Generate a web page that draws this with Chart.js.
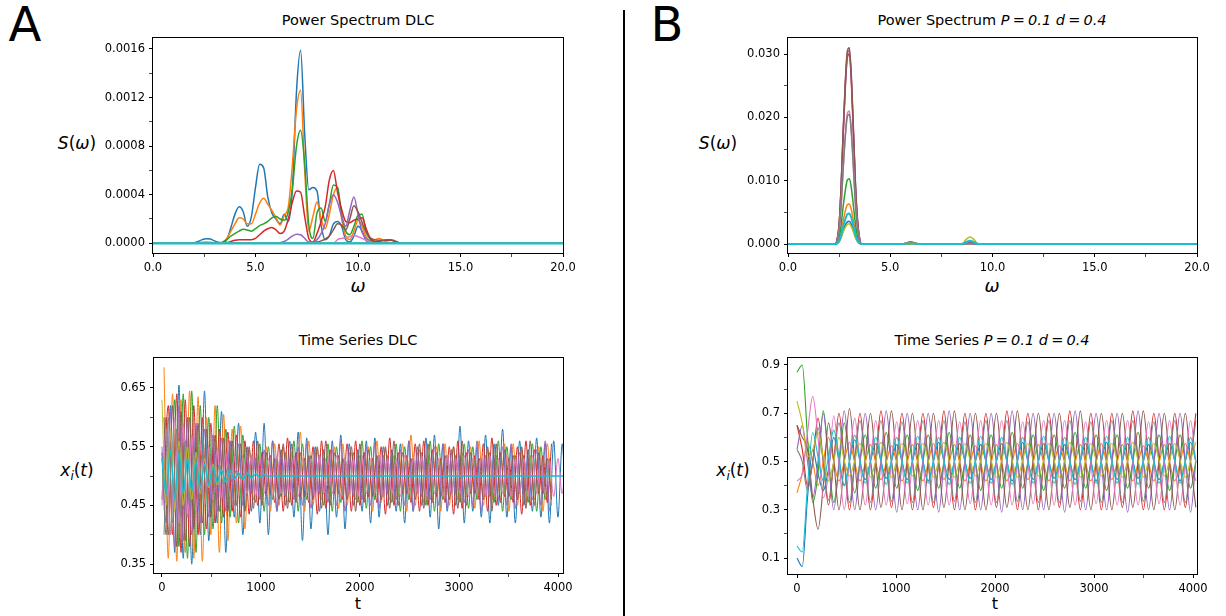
<!DOCTYPE html>
<html lang="en">
<head>
<meta charset="UTF-8">
<title>Power spectra and time series: DLC vs P=0.1 d=0.4</title>
<script src="https://cdn.jsdelivr.net/npm/chart.js"></script>
<style>
  body { margin: 0; background: #fff; font-family: 'DejaVu Sans', sans-serif; }
  #fig { position: relative; width: 1226px; height: 616px; overflow: hidden; background: #fff; }
  canvas { position: absolute; }
  .t { position: absolute; transform: translate(-50%, -50%); white-space: nowrap; color: #000; }
  .title { font-size: 14.5px; }
  .xl { font-size: 18px; }
  .tl { font-size: 16px; }
  .yl { font-size: 17px; }
  .big { font-size: 48px; }
  i { font-style: italic; }
  .eq { padding: 0 0.22em; font-style: normal; }
  sub { font-size: 70%; vertical-align: -0.3em; line-height: 0; }
  #divider { position: absolute; left: 623px; top: 10px; width: 2px; height: 606px; background: #000; }
</style>
</head>
<body>
<div id="fig">
  <div class="t big" style="left:25px;top:24px">A</div>
  <div class="t big" style="left:667px;top:24px">B</div>
  <div id="divider"></div>

  <div class="t title" style="left:358px;top:20px">Power Spectrum DLC</div>
  <div class="t title" style="left:358px;top:340px">Time Series DLC</div>
  <div class="t title" style="left:992px;top:20px">Power Spectrum <i>P</i><span class="eq">=</span><i>0.1</i> <i>d</i><span class="eq">=</span><i>0.4</i></div>
  <div class="t title" style="left:992px;top:340px">Time Series <i>P</i><span class="eq">=</span><i>0.1</i> <i>d</i><span class="eq">=</span><i>0.4</i></div>

  <div class="t yl" style="left:77px;top:143px"><i>S</i>(<i>ω</i>)</div>
  <div class="t yl" style="left:77px;top:470px"><i>x<sub>i</sub></i>(<i>t</i>)</div>
  <div class="t yl" style="left:718px;top:143px"><i>S</i>(<i>ω</i>)</div>
  <div class="t yl" style="left:733px;top:470px"><i>x<sub>i</sub></i>(<i>t</i>)</div>

  <div class="t xl" style="left:358px;top:285px"><i>ω</i></div>
  <div class="t tl" style="left:358px;top:603px">t</div>
  <div class="t xl" style="left:992px;top:285px"><i>ω</i></div>
  <div class="t tl" style="left:995px;top:603px">t</div>

  <canvas id="specA"></canvas>
  <canvas id="timeA"></canvas>
  <canvas id="specB"></canvas>
  <canvas id="timeB"></canvas>
</div>

<script>
// matplotlib tab10 order
const tab10 = ['#1f77b4', '#ff7f0e', '#2ca02c', '#d62728', '#9467bd', '#8c564b', '#e377c2', '#7f7f7f', '#bcbd22', '#17becf'];

// ---------- A: power spectrum, DLC (values in units of 1e-4) ----------
const omegaA = [0, 1.8, 2.0, 2.2, 2.4, 2.6, 2.8, 3.0, 3.2, 3.4, 3.6, 3.8, 4.0, 4.2, 4.4, 4.6, 4.8, 5.0, 5.2, 5.4, 5.6,
  5.8, 6.0, 6.2, 6.4, 6.6, 6.8, 7.0, 7.2, 7.4, 7.6, 7.8, 8.0, 8.2, 8.4, 8.6, 8.8, 9.0, 9.2, 9.4, 9.6,
  9.8, 10.0, 10.2, 10.4, 10.6, 10.8, 11.0, 11.2, 11.4, 11.6, 11.8, 12.0, 12.2, 20];
const omegaEnds = [0, 20];
const specA_blue = [0, 0, 0.05, 0.15, 0.3, 0.38, 0.35, 0.2, 0.08, 0.02, 0.3, 1.3, 2.4, 3.0, 2.6, 1.4, 2.2, 4.6, 6.5, 6.2, 3.8,
  2.5, 2.0, 1.6, 2.4, 1.8, 4.5, 12.5, 15.9, 9.0, 4.4, 4.6, 4.3, 1.5, 0.3, 0.6, 1.6, 1.8, 1.4, 0.3, 0.1,
  0.6, 1.4, 1.0, 0.2, 0.05, 0, 0, 0, 0, 0, 0, 0, 0, 0];
const specA_orange = [0, 0, 0.02, 0.05, 0.08, 0.1, 0.08, 0.05, 0.05, 0.1, 0.4, 1.0, 1.6, 2.1, 2.0, 1.6, 1.6, 2.4, 3.3, 3.7, 3.2,
  2.7, 2.1, 1.5, 2.3, 3.0, 6.5, 11.0, 12.6, 6.0, 1.0, 2.2, 3.4, 2.0, 1.2, 2.4, 4.0, 4.6, 2.0, 0.6, 0.3,
  1.0, 1.9, 1.4, 0.5, 0.2, 0.25, 0.4, 0.3, 0.1, 0.05, 0, 0, 0, 0];
const specA_green = [0, 0, 0, 0, 0, 0, 0, 0, 0, 0.1, 0.3, 0.6, 0.8, 1.0, 1.15, 1.1, 1.0, 1.2, 1.45, 1.6, 1.8,
  2.1, 2.2, 2.0, 1.9, 2.6, 4.5, 8.0, 9.3, 6.5, 1.5, 0.4, 2.5, 2.9, 1.8, 3.2, 4.8, 4.6, 2.4, 1.0, 0.7,
  1.4, 2.3, 2.4, 0.9, 0.3, 0.1, 0, 0, 0, 0, 0, 0, 0, 0];
const specA_red = [0, 0, 0, 0, 0, 0, 0, 0, 0, 0, 0.05, 0.15, 0.25, 0.3, 0.3, 0.3, 0.3, 0.4, 0.7, 1.0, 1.2,
  1.3, 1.1, 0.8, 1.0, 2.0, 3.4, 4.3, 4.2, 2.2, 0.4, 0.1, 0.8, 1.8, 3.0, 5.2, 6.0, 4.2, 2.8, 1.8, 1.7,
  1.9, 2.0, 2.1, 1.2, 0.4, 0.15, 0.15, 0.2, 0.25, 0.25, 0.15, 0.05, 0, 0];
const specA_purple = [0, 0, 0, 0, 0, 0, 0, 0, 0, 0, 0, 0, 0, 0, 0, 0, 0, 0, 0, 0, 0,
  0, 0, 0.05, 0.15, 0.35, 0.6, 0.75, 0.7, 0.4, 0.1, 0.1, 0.3, 0.8, 1.6, 3.2, 4.0, 3.4, 2.2, 1.4, 2.7,
  3.8, 2.4, 0.9, 0.4, 0.15, 0.05, 0, 0, 0, 0, 0, 0, 0, 0];
const specA_brown = [0, 0, 0, 0, 0, 0, 0, 0, 0, 0, 0, 0, 0, 0, 0, 0, 0, 0, 0, 0, 0,
  0, 0, 0, 0, 0, 0, 0, 0, 0, 0, 0.05, 0.1, 0.2, 0.35, 0.6, 1.1, 1.6, 1.5, 1.1, 2.0,
  3.1, 2.6, 1.7, 0.9, 0.45, 0.3, 0.25, 0.25, 0.3, 0.3, 0.2, 0.05, 0, 0];
const specA_pink = [0, 0, 0, 0, 0, 0, 0, 0, 0, 0, 0, 0, 0, 0, 0, 0, 0, 0, 0, 0, 0,
  0, 0, 0, 0, 0, 0, 0, 0, 0, 0, 0, 0, 0, 0, 0, 0, 0.3, 0.4, 0.45, 0.55,
  0.65, 0.55, 0.4, 0.25, 0.1, 0, 0, 0, 0, 0, 0, 0, 0, 0];
const specA_flat = [0, 0];

// ---------- B: power spectrum, P=0.1 d=0.4 (values in units of 1e-3) ----------
const omegaB = [0, 2.3, 2.4, 2.5, 2.6, 2.7, 2.8, 2.9, 3.0, 3.1, 3.2, 3.3, 3.4, 3.5, 3.6, 5.6, 5.8, 6.0, 6.2, 6.4, 8.5, 8.7, 8.9, 9.1, 9.3, 20];
const specB_blue   = [0, 0, 0.1, 0.4, 1.1, 2.1, 3.0, 3.5, 3.6, 3.1, 2.1, 1.1, 0.4, 0.1, 0, 0, 0.2, 0.35, 0.2, 0, 0, 0.25, 0.4, 0.25, 0, 0];
const specB_orange = [0, 0, 0.1, 0.6, 1.9, 3.7, 5.2, 6.2, 6.3, 5.4, 3.7, 1.9, 0.8, 0.2, 0, 0, 0.15, 0.25, 0.15, 0, 0, 0.2, 0.3, 0.2, 0, 0];
const specB_green  = [0, 0, 0.2, 1.0, 3.1, 6.0, 8.4, 10.1, 10.3, 8.8, 6.0, 3.1, 1.2, 0.3, 0, 0, 0, 0, 0, 0, 0, 0.1, 0.15, 0.1, 0, 0];
const specB_red    = [0, 0, 0.6, 3.0, 9.0, 17.4, 24.6, 29.4, 30.0, 25.5, 17.4, 9.0, 3.6, 0.9, 0, 0, 0, 0, 0, 0, 0, 0.05, 0.1, 0.05, 0, 0];
const specB_purple = [0, 0, 0.6, 3.05, 9.2, 17.7, 25.0, 29.9, 30.5, 25.9, 17.7, 9.2, 3.7, 0.9, 0, 0, 0, 0, 0, 0, 0, 0.1, 0.2, 0.1, 0, 0];
const specB_brown  = [0, 0, 0.6, 3.1, 9.3, 18.0, 25.4, 30.4, 31.0, 26.4, 18.0, 9.3, 3.7, 0.9, 0, 0, 0, 0, 0, 0, 0, 0.05, 0.1, 0.05, 0, 0];
const specB_pink   = [0, 0, 0.4, 2.1, 6.3, 12.2, 17.2, 20.6, 21.0, 17.9, 12.2, 6.3, 2.5, 0.6, 0, 0, 0, 0, 0, 0, 0, 0, 0, 0, 0, 0];
const specB_gray   = [0, 0, 0.4, 2.05, 6.2, 11.9, 16.8, 20.1, 20.5, 17.4, 11.9, 6.2, 2.5, 0.6, 0, 0, 0, 0, 0, 0, 0, 0, 0, 0, 0, 0];
const specB_olive  = [0, 0, 0.1, 0.3, 1.0, 1.9, 2.6, 3.1, 3.2, 2.7, 1.9, 1.0, 0.4, 0.1, 0, 0, 0, 0, 0, 0, 0, 0.7, 1.1, 0.7, 0, 0];
const specB_cyan   = [0, 0, 0.1, 0.5, 1.4, 2.8, 3.9, 4.7, 4.8, 4.1, 2.8, 1.4, 0.6, 0.1, 0, 0, 0.05, 0.1, 0.05, 0, 0, 0.3, 0.5, 0.3, 0, 0];

// ---------- A: time series, DLC (sampled at the turning points, every 43 time units) ----------
const tA = Array.from({ length: 100 }, (_, k) => k * 43);        // sample grid
const tA2 = Array.from({ length: 100 }, (_, k) => 21 + k * 43);  // grid shifted by a quarter period
const tsA_blue = [0.54,0.40,0.62,0.37,0.655,0.36,0.60,0.35,0.58,0.40, 0.645,0.39,0.55,0.42,0.61,0.37,0.56,0.43,0.59,0.40,
  0.55,0.44,0.575,0.42,0.59,0.40,0.56,0.44,0.545,0.45, 0.56,0.43,0.575,0.39,0.565,0.41,0.55,0.44,0.545,0.40,
  0.56,0.43,0.57,0.41,0.555,0.45,0.545,0.44,0.56,0.42, 0.565,0.43,0.55,0.45,0.545,0.44,0.555,0.42,0.56,0.44,
  0.55,0.45,0.565,0.43,0.57,0.41,0.555,0.44,0.545,0.45, 0.585,0.42,0.56,0.44,0.55,0.43,0.57,0.42,0.555,0.45,
  0.58,0.43,0.55,0.42,0.56,0.45,0.545,0.44,0.565,0.43, 0.555,0.42,0.56,0.43,0.555,0.44,0.55,0.43];
const tsA_orange = [0.685,0.36,0.64,0.355,0.63,0.37,0.645,0.36,0.635,0.355, 0.60,0.40,0.62,0.37,0.605,0.39,0.58,0.42,0.585,0.41,
  0.545,0.46,0.535,0.46,0.55,0.44,0.555,0.45, 0.55,0.455,0.54,0.465,0.575,0.44,0.56,0.45,
  0.545,0.46,0.53,0.465,0.55,0.445,0.555,0.45, 0.54,0.46,0.535,0.46,0.55,0.44,0.56,0.455,
  0.545,0.46,0.535,0.465,0.555,0.44,0.57,0.45, 0.545,0.455,0.535,0.46,0.55,0.44,0.555,0.45,
  0.55,0.46,0.54,0.465,0.55,0.445,0.56,0.45, 0.545,0.46,0.535,0.46,0.555,0.44,0.555,0.45,
  0.545,0.455,0.535,0.46,0.55,0.44,0.555,0.45];
const tsA_green = [0.46,0.60,0.40,0.63,0.38,0.64,0.36,0.645,0.37,0.62, 0.40,0.60,0.41,0.62,0.42,0.58,0.43,0.585,0.42,0.57,
  0.47,0.535,0.455,0.555,0.44,0.55,0.46,0.53, 0.465,0.54,0.455,0.56,0.44,0.555,0.46,0.535,
  0.47,0.535,0.45,0.555,0.44,0.55,0.455,0.53, 0.47,0.54,0.455,0.56,0.445,0.55,0.46,0.535,
  0.465,0.535,0.455,0.555,0.44,0.55,0.46,0.53, 0.47,0.54,0.45,0.56,0.44,0.555,0.46,0.535,
  0.47,0.535,0.455,0.555,0.445,0.55,0.46,0.53, 0.465,0.54,0.455,0.56,0.44,0.55,0.46,0.535,
  0.47,0.535,0.455,0.555,0.44,0.55,0.46,0.53];
const tsA_red = [0.50,0.62,0.40,0.64,0.37,0.63,0.38,0.62,0.40,0.60, 0.41,0.59,0.42,0.58,0.43,0.575,0.44,0.57,0.43,0.56,
  0.435,0.56,0.45,0.54,0.47,0.535,0.455,0.555, 0.44,0.565,0.45,0.54,0.465,0.53,0.455,0.55,
  0.435,0.56,0.445,0.545,0.47,0.535,0.46,0.555, 0.44,0.56,0.45,0.54,0.465,0.53,0.455,0.55,
  0.435,0.565,0.45,0.54,0.47,0.535,0.455,0.555, 0.44,0.56,0.45,0.545,0.465,0.53,0.455,0.55,
  0.435,0.56,0.445,0.54,0.47,0.535,0.46,0.555, 0.44,0.565,0.45,0.54,0.465,0.53,0.455,0.55,
  0.435,0.56,0.45,0.545,0.47,0.535,0.455,0.555];
const tsA_purple = [0.55,0.42,0.61,0.38,0.62,0.39,0.60,0.40,0.59,0.42, 0.58,0.43,0.57,0.44,0.565,0.44,0.56,0.45,0.555,0.45,
  0.54,0.47,0.53,0.46,0.545,0.45,0.56,0.44, 0.535,0.465,0.53,0.46,0.55,0.45,0.555,0.445,
  0.54,0.47,0.53,0.455,0.545,0.45,0.56,0.44, 0.54,0.465,0.535,0.46,0.55,0.45,0.555,0.445,
  0.535,0.47,0.53,0.46,0.545,0.45,0.56,0.44, 0.54,0.465,0.53,0.46,0.55,0.45,0.555,0.445,
  0.54,0.47,0.535,0.455,0.545,0.45,0.56,0.44, 0.535,0.465,0.53,0.46,0.55,0.45,0.555,0.445,
  0.54,0.47,0.53,0.46,0.545,0.45,0.56,0.44];
const tsA_brown = [0.60,0.40,0.62,0.38,0.61,0.39,0.60,0.41,0.59,0.42, 0.58,0.43,0.57,0.44,0.565,0.44,0.56,0.45,0.555,0.44,
  0.55,0.445,0.56,0.45,0.54,0.47,0.53,0.46, 0.555,0.445,0.555,0.455,0.54,0.465,0.535,0.46,
  0.55,0.445,0.56,0.45,0.54,0.47,0.53,0.46, 0.55,0.44,0.555,0.455,0.545,0.465,0.535,0.46,
  0.55,0.445,0.56,0.45,0.54,0.47,0.53,0.46, 0.555,0.445,0.555,0.455,0.54,0.465,0.535,0.46,
  0.55,0.445,0.56,0.45,0.54,0.47,0.53,0.46, 0.55,0.44,0.555,0.455,0.545,0.465,0.535,0.46,
  0.55,0.445,0.56,0.45,0.54,0.47,0.53,0.46];
const tsA_pink = [0.45,0.58,0.40,0.60,0.42,0.59,0.43,0.57,0.44,0.56, 0.45,0.55,0.46,0.545,0.46,0.54,0.465,0.535,0.465,0.53,
  0.47,0.535,0.465,0.53,0.47,0.53,0.465,0.535,0.47,0.53, 0.47,0.535,0.465,0.53,0.47,0.53,0.465,0.535,0.47,0.53,
  0.47,0.535,0.465,0.53,0.47,0.53,0.465,0.535,0.47,0.53, 0.47,0.535,0.465,0.53,0.47,0.53,0.465,0.535,0.47,0.53,
  0.47,0.535,0.465,0.53,0.47,0.53,0.465,0.535,0.47,0.53, 0.47,0.535,0.465,0.53,0.47,0.53,0.465,0.535,0.47,0.53,
  0.47,0.535,0.465,0.53,0.47,0.53,0.465,0.535,0.47,0.53, 0.47,0.525,0.465,0.53,0.47,0.535,0.465,0.53];
const tsA_gray = [0.40,0.60,0.42,0.58,0.43,0.56,0.45,0.55,0.46,0.54, 0.47,0.53,0.48,0.52,0.485,0.515,0.49,0.51,0.495,0.505, 0.5,0.5];
const tsA_olive = [0.63,0.45,0.58,0.44,0.56,0.45,0.55,0.46,0.54,0.47, 0.53,0.48,0.52,0.485,0.51,0.49,0.505,0.495,0.5,0.5];
const tsA_cyan = [0.53,0.47,0.545,0.46,0.54,0.47,0.53,0.475,0.525,0.48, 0.52,0.485,0.515,0.49,0.51,0.49,0.51,0.495,0.505,0.495,
  0.505,0.497,0.503,0.498,0.502,0.5,0.5,0.5,0.5,0.5, 0.5,0.5,0.5,0.5,0.5,0.5,0.5,0.5,0.5,0.5,
  0.5,0.5,0.5,0.5,0.5,0.5,0.5,0.5,0.5,0.5, 0.5,0.5,0.5,0.5,0.5,0.5,0.5,0.5,0.5,0.5,
  0.5,0.5,0.5,0.5,0.5,0.5,0.5,0.5,0.5,0.5, 0.5,0.5,0.5,0.5,0.5,0.5,0.5,0.5,0.5,0.5,
  0.5,0.5,0.5,0.5,0.5,0.5,0.5,0.5,0.5,0.5, 0.5,0.5,0.5,0.5,0.5,0.5,0.5,0.5];

// ---------- B: time series, P=0.1 d=0.4 (sampled every 53 time units, a quarter period) ----------
const tB = Array.from({ length: 80 }, (_, k) => k * 53);
const tsB_blue = [0.10,0.065,0.35,0.55,0.45,0.38,0.47,0.60,0.50,0.40,0.50,0.59,
  0.50,0.425,0.50,0.575, 0.50,0.43,0.50,0.57, 0.50,0.425,0.50,0.575, 0.50,0.42,0.50,0.58, 0.50,0.425,0.50,0.575, 0.50,0.43,0.50,0.57,
  0.50,0.425,0.50,0.575, 0.50,0.42,0.50,0.58, 0.50,0.425,0.50,0.575, 0.50,0.43,0.50,0.57, 0.50,0.425,0.50,0.575, 0.50,0.42,0.50,0.58,
  0.50,0.425,0.50,0.575, 0.50,0.43,0.50,0.57, 0.50,0.425,0.50,0.575, 0.50,0.42,0.50,0.58, 0.50];
const tsB_orange = [0.37,0.45,0.58,0.50,0.40,0.50,0.60,0.50,0.42,0.50,0.58,0.495,
  0.42,0.495,0.57,0.495, 0.425,0.495,0.565,0.495, 0.42,0.495,0.57,0.495, 0.42,0.495,0.575,0.495, 0.425,0.495,0.57,0.495, 0.42,0.495,0.565,0.495,
  0.42,0.495,0.57,0.495, 0.42,0.495,0.575,0.495, 0.425,0.495,0.57,0.495, 0.42,0.495,0.565,0.495, 0.42,0.495,0.57,0.495, 0.42,0.495,0.575,0.495,
  0.425,0.495,0.57,0.495, 0.42,0.495,0.565,0.495, 0.42,0.495,0.57,0.495, 0.42,0.495,0.575,0.495, 0.42];
const tsB_green = [0.87,0.90,0.60,0.33,0.45,0.71,0.52,0.33,0.48,0.66,0.50,0.37,
  0.50,0.61,0.50,0.39, 0.50,0.62,0.50,0.39, 0.50,0.61,0.50,0.38, 0.50,0.61,0.50,0.39, 0.50,0.62,0.50,0.39, 0.50,0.61,0.50,0.38,
  0.50,0.61,0.50,0.39, 0.50,0.62,0.50,0.39, 0.50,0.61,0.50,0.38, 0.50,0.61,0.50,0.39, 0.50,0.62,0.50,0.39, 0.50,0.61,0.50,0.38,
  0.50,0.61,0.50,0.39, 0.50,0.62,0.50,0.39, 0.50,0.61,0.50,0.38, 0.50,0.61,0.50,0.39, 0.50];
const tsB_red = [0.65,0.55,0.40,0.50,0.68,0.50,0.32,0.50,0.70,0.50,0.30,0.50,
  0.70,0.50,0.30,0.50, 0.71,0.50,0.31,0.50, 0.70,0.50,0.30,0.50, 0.70,0.50,0.31,0.50, 0.71,0.50,0.30,0.50, 0.70,0.50,0.30,0.50,
  0.70,0.50,0.31,0.50, 0.71,0.50,0.30,0.50, 0.70,0.50,0.30,0.50, 0.70,0.50,0.31,0.50, 0.71,0.50,0.30,0.50, 0.70,0.50,0.30,0.50,
  0.70,0.50,0.31,0.50, 0.71,0.50,0.30,0.50, 0.70,0.50,0.30,0.50, 0.70,0.50,0.31,0.50, 0.70];
const tsB_purple = [0.55,0.65,0.50,0.35,0.50,0.70,0.50,0.30,0.50,0.71,0.50,0.30,
  0.50,0.70,0.50,0.30, 0.50,0.71,0.50,0.29, 0.50,0.70,0.50,0.30, 0.50,0.70,0.50,0.29, 0.50,0.71,0.50,0.30, 0.50,0.70,0.50,0.30,
  0.50,0.70,0.50,0.29, 0.50,0.71,0.50,0.30, 0.50,0.70,0.50,0.30, 0.50,0.70,0.50,0.29, 0.50,0.71,0.50,0.30, 0.50,0.70,0.50,0.30,
  0.50,0.70,0.50,0.29, 0.50,0.71,0.50,0.30, 0.50,0.70,0.50,0.30, 0.50,0.70,0.50,0.29, 0.50];
const tsB_brown = [0.65,0.60,0.55,0.35,0.22,0.40,0.66,0.50,0.30,0.50,0.72,0.50,
  0.30,0.50,0.70,0.50, 0.31,0.50,0.71,0.50, 0.30,0.50,0.70,0.50, 0.30,0.50,0.70,0.50, 0.31,0.50,0.71,0.50, 0.30,0.50,0.70,0.50,
  0.30,0.50,0.70,0.50, 0.31,0.50,0.71,0.50, 0.30,0.50,0.70,0.50, 0.30,0.50,0.70,0.50, 0.31,0.50,0.71,0.50, 0.30,0.50,0.70,0.50,
  0.30,0.50,0.70,0.50, 0.31,0.50,0.71,0.50, 0.30,0.50,0.70,0.50, 0.30,0.50,0.70,0.50, 0.31];
const tsB_pink = [0.42,0.45,0.62,0.77,0.60,0.35,0.45,0.69,0.50,0.30,0.50,0.68,
  0.495,0.32,0.495,0.67, 0.495,0.32,0.495,0.665, 0.495,0.325,0.495,0.67, 0.495,0.32,0.495,0.67, 0.495,0.32,0.495,0.665, 0.495,0.325,0.495,0.67,
  0.495,0.32,0.495,0.67, 0.495,0.32,0.495,0.665, 0.495,0.325,0.495,0.67, 0.495,0.32,0.495,0.67, 0.495,0.32,0.495,0.665, 0.495,0.325,0.495,0.67,
  0.495,0.32,0.495,0.67, 0.495,0.32,0.495,0.665, 0.495,0.325,0.495,0.67, 0.495,0.32,0.495,0.67, 0.495];
const tsB_gray = [0.55,0.50,0.38,0.50,0.64,0.50,0.34,0.50,0.66,0.50,0.33,0.50,
  0.67,0.50,0.33,0.50, 0.67,0.50,0.335,0.50, 0.665,0.50,0.33,0.50, 0.67,0.50,0.33,0.50, 0.67,0.50,0.335,0.50, 0.665,0.50,0.33,0.50,
  0.67,0.50,0.33,0.50, 0.67,0.50,0.335,0.50, 0.665,0.50,0.33,0.50, 0.67,0.50,0.33,0.50, 0.67,0.50,0.335,0.50, 0.665,0.50,0.33,0.50,
  0.67,0.50,0.33,0.50, 0.67,0.50,0.335,0.50, 0.665,0.50,0.33,0.50, 0.67,0.50,0.33,0.50, 0.67];
const tsB_olive = [0.75,0.66,0.52,0.55,0.62,0.52,0.42,0.50,0.60,0.505,0.44,0.505,
  0.575,0.505,0.435,0.505, 0.58,0.505,0.435,0.505, 0.575,0.505,0.44,0.505, 0.575,0.505,0.435,0.505, 0.58,0.505,0.435,0.505, 0.575,0.505,0.44,0.505,
  0.575,0.505,0.435,0.505, 0.58,0.505,0.435,0.505, 0.575,0.505,0.44,0.505, 0.575,0.505,0.435,0.505, 0.58,0.505,0.435,0.505, 0.575,0.505,0.44,0.505,
  0.575,0.505,0.435,0.505, 0.58,0.505,0.435,0.505, 0.575,0.505,0.44,0.505, 0.575,0.505,0.435,0.505, 0.58];
const tsB_cyan = [0.15,0.125,0.40,0.62,0.52,0.42,0.52,0.63,0.52,0.40,0.505,0.61,
  0.505,0.41,0.505,0.60, 0.505,0.405,0.505,0.60, 0.505,0.41,0.505,0.605, 0.505,0.41,0.505,0.60, 0.505,0.405,0.505,0.60, 0.505,0.41,0.505,0.605,
  0.505,0.41,0.505,0.60, 0.505,0.405,0.505,0.60, 0.505,0.41,0.505,0.605, 0.505,0.41,0.505,0.60, 0.505,0.405,0.505,0.60, 0.505,0.41,0.505,0.605,
  0.505,0.41,0.505,0.60, 0.505,0.405,0.505,0.60, 0.505,0.41,0.505,0.605, 0.505,0.41,0.505,0.60, 0.505];

// ---------- axes: tick values and ranges ----------
const specA_yMajor = [0, 0.0004, 0.0008, 0.0012, 0.0016];
const specA_yMinor = [0.0002, 0.0006, 0.0010, 0.0014];
const specB_yMajor = [0, 0.010, 0.020, 0.030];
const specB_yMinor = [0.005, 0.015, 0.025];
const omegaMajor = [0, 5, 10, 15, 20];
const omegaMinor = [2.5, 7.5, 12.5, 17.5];
const tsA_yMajor = [0.35, 0.45, 0.55, 0.65];
const tsA_yMinor = [0.40, 0.50, 0.60];
const tsB_yMajor = [0.1, 0.3, 0.5, 0.7, 0.9];
const tsB_yMinor = [0.2, 0.4, 0.6, 0.8];
const tMajor = [0, 1000, 2000, 3000, 4000];
const tMinor = [500, 1500, 2500, 3500];

// ---------- chart helpers ----------
const YW = 64, XH = 26, PT = 12, PR = 26;

const frame = {
  id: 'frame',
  afterDraw(chart) {
    const a = chart.chartArea, c = chart.ctx;
    c.save();
    c.strokeStyle = '#000';
    c.lineWidth = 1;
    c.strokeRect(Math.round(a.left) - 0.5, Math.round(a.top) - 0.5, Math.round(a.right - a.left) + 1, Math.round(a.bottom - a.top) + 1);
    c.restore();
  }
};

function axis(which, a) {
  return {
    type: 'linear', min: a.min, max: a.max,
    afterBuildTicks: s => {
      s.ticks = a.major.map(v => ({ value: v }))
        .concat(a.minor.map(v => ({ value: v, minor: true })))
        .sort((p, q) => p.value - q.value);
    },
    afterFit: s => { if (which === 'x') s.height = XH; else s.width = YW; },
    ticks: {
      autoSkip: false, maxRotation: 0, padding: 4, color: '#000',
      font: { family: 'DejaVu Sans', size: 11.5 },
      callback: (v, i, t) => (t[i] && t[i].minor ? '' : a.fmt(v))
    },
    grid: {
      drawOnChartArea: false, drawTicks: true, tickLength: 4, tickColor: '#000',
      tickWidth: c => (c.tick && c.tick.minor ? 0.7 : 1)
    },
    border: { display: false }
  };
}

// each entry: [times, values, colour]
function lines(list, scale, width) {
  const n = list.length;
  return list.map(([times, vals, color], i) => ({
    data: vals.map((v, k) => ({ x: times[k], y: v * scale })),
    borderColor: color,
    borderWidth: typeof width === 'function' ? width(i) : width,
    pointRadius: 0,
    fill: false,
    cubicInterpolationMode: 'monotone',
    order: n - i
  }));
}

function panel(id, rect, datasets, xs, ys) {
  const cv = document.getElementById(id);
  const w = YW + rect.r - rect.l + PR, h = PT + rect.b - rect.t + XH;
  cv.width = w; cv.height = h;
  cv.style.left = (rect.l - YW) + 'px';
  cv.style.top = (rect.t - PT) + 'px';
  cv.style.width = w + 'px';
  cv.style.height = h + 'px';
  new Chart(cv, {
    type: 'line',
    data: { datasets },
    options: {
      responsive: false, animation: false, devicePixelRatio: 1,
      layout: { padding: { top: PT, right: PR, left: 0, bottom: 0 } },
      plugins: { legend: { display: false }, tooltip: { enabled: false } },
      elements: { point: { radius: 0 } },
      scales: { x: axis('x', xs), y: axis('y', ys) }
    },
    plugins: [frame]
  });
}

// ---------- the four panels ----------
panel('specA', { l: 153, t: 38, r: 563, b: 253 },
  lines([
    [omegaA, specA_blue, tab10[0]], [omegaA, specA_orange, tab10[1]], [omegaA, specA_green, tab10[2]],
    [omegaA, specA_red, tab10[3]], [omegaA, specA_purple, tab10[4]], [omegaA, specA_brown, tab10[5]],
    [omegaA, specA_pink, tab10[6]], [omegaEnds, specA_flat, tab10[7]], [omegaEnds, specA_flat, tab10[8]],
    [omegaEnds, specA_flat, tab10[9]]
  ], 1e-4, i => (i === 9 ? 2.2 : 1.5)),
  { min: 0, max: 20, major: omegaMajor, minor: omegaMinor, fmt: v => v.toFixed(1) },
  { min: -0.00008, max: 0.00169, major: specA_yMajor, minor: specA_yMinor, fmt: v => v.toFixed(4) });

panel('timeA', { l: 154, t: 358, r: 563, b: 573 },
  lines([
    [tA, tsA_blue, tab10[0]], [tA2, tsA_orange, tab10[1]], [tA, tsA_green, tab10[2]],
    [tA2, tsA_red, tab10[3]], [tA, tsA_purple, tab10[4]], [tA2, tsA_brown, tab10[5]],
    [tA, tsA_pink, tab10[6]], [tA2, tsA_gray, tab10[7]], [tA, tsA_olive, tab10[8]],
    [tA, tsA_cyan, tab10[9]]
  ], 1, i => (i === 9 ? 1.6 : 1.0)),
  { min: -80, max: 4050, major: tMajor, minor: tMinor, fmt: v => String(v) },
  { min: 0.335, max: 0.701, major: tsA_yMajor, minor: tsA_yMinor, fmt: v => v.toFixed(2) });

panel('specB', { l: 788, t: 38, r: 1197, b: 253 },
  lines([
    [omegaB, specB_blue, tab10[0]], [omegaB, specB_orange, tab10[1]], [omegaB, specB_green, tab10[2]],
    [omegaB, specB_red, tab10[3]], [omegaB, specB_purple, tab10[4]], [omegaB, specB_brown, tab10[5]],
    [omegaB, specB_pink, tab10[6]], [omegaB, specB_gray, tab10[7]], [omegaB, specB_olive, tab10[8]],
    [omegaB, specB_cyan, tab10[9]]
  ], 1e-3, i => (i === 9 ? 2.0 : 1.5)),
  { min: 0, max: 20, major: omegaMajor, minor: omegaMinor, fmt: v => v.toFixed(1) },
  { min: -0.00142, max: 0.03253, major: specB_yMajor, minor: specB_yMinor, fmt: v => v.toFixed(3) });

panel('timeB', { l: 788, t: 358, r: 1197, b: 574 },
  lines([
    [tB, tsB_blue, tab10[0]], [tB, tsB_orange, tab10[1]], [tB, tsB_green, tab10[2]],
    [tB, tsB_red, tab10[3]], [tB, tsB_purple, tab10[4]], [tB, tsB_brown, tab10[5]],
    [tB, tsB_pink, tab10[6]], [tB, tsB_gray, tab10[7]], [tB, tsB_olive, tab10[8]],
    [tB, tsB_cyan, tab10[9]]
  ], 1, 1.1),
  { min: -91, max: 4040, major: tMajor, minor: tMinor, fmt: v => String(v) },
  { min: 0.034, max: 0.929, major: tsB_yMajor, minor: tsB_yMinor, fmt: v => v.toFixed(1) });
</script>
</body>
</html>
